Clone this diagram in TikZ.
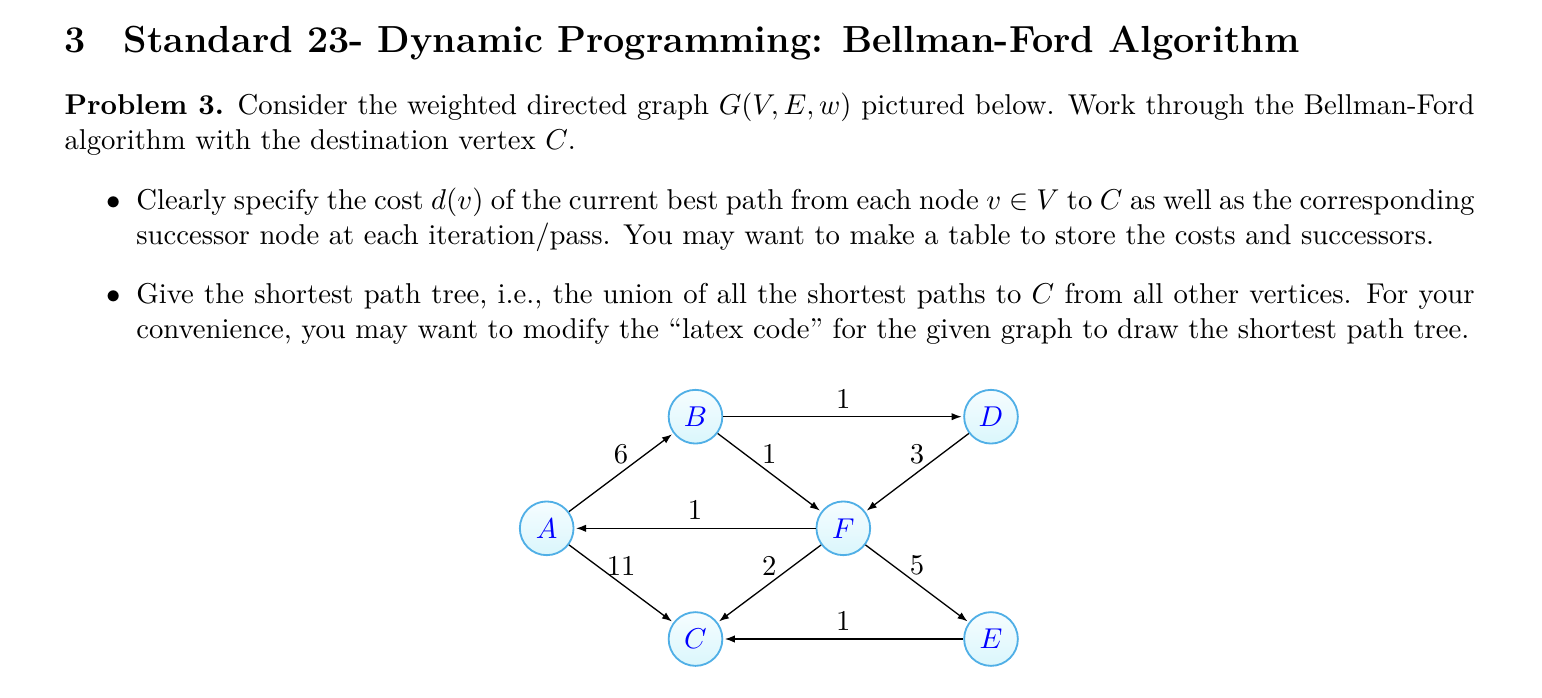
\documentclass[tikz,border=0pt]{standalone}
\usetikzlibrary{arrows.meta}
\definecolor{nodeborder}{RGB}{80,175,230}
\definecolor{nodetop}{RGB}{246,253,255}
\definecolor{nodebot}{RGB}{218,246,252}
\tikzset{
  vtx/.style={circle, draw=nodeborder, line width=0.7pt, top color=nodetop, bottom color=nodebot,
    minimum size=20.5pt, inner sep=0pt, text=blue},
  edg/.style={-{Latex[length=3.8pt,width=2.8pt]}, line width=0.5pt, shorten >=0.6pt},
  wt/.style={above, midway, inner sep=3pt},
  para/.style={anchor=base west, inner sep=0pt, align=justify},
  bul/.style={anchor=base east, inner sep=0pt}
}
\begin{document}
\fontsize{10.95}{13.6}\selectfont
\begin{tikzpicture}[x=0.381679pt, y=-0.381679pt]
\useasboundingbox (0,0) rectangle (1542,698);
% heading
\node[para] (head) at (64,52.3) {\fontsize{14.4}{18}\selectfont\bfseries 3\quad Standard 23- Dynamic Programming: Bellman-Ford Algorithm};
% problem statement
\node[para, text width=538.2pt] (prob) at (64,114.3) {\textbf{Problem 3.} Consider the weighted directed graph $G(V,E,w)$ pictured below. Work through the Bellman-Ford algorithm with the destination vertex $C$.};
% bullets
\node[bul] (b1) at (121.4,209.3) {$\bullet$};
\node[para, text width=510.8pt] (item1) at (135.8,209.3) {Clearly specify the cost $d(v)$ of the current best path from each node $v\in V$ to $C$ as well as the corresponding successor node at each iteration/pass. You may want to make a table to store the costs and successors.};
\node[bul] (b2) at (121.4,303.3) {$\bullet$};
\node[para, text width=510.8pt] (item2) at (135.8,303.3) {Give the shortest path tree, i.e., the union of all the shortest paths to $C$ from all other vertices. For your convenience, you may want to modify the ``latex code'' for the given graph to draw the shortest path tree.};
% graph
\node[vtx] (A) at (546.7,528.3) {$A$};
\node[vtx] (B) at (695.5,416.7) {$B$};
\node[vtx] (D) at (991,416.7) {$D$};
\node[vtx] (F) at (843.3,528.3) {$F$};
\node[vtx] (C) at (695.5,639) {$C$};
\node[vtx] (E) at (991,639) {$E$};
\draw[edg] (A) -- node[wt] {6} (B);
\draw[edg] (B) -- node[wt] {1} (D);
\draw[edg] (B) -- node[wt] {1} (F);
\draw[edg] (D) -- node[wt] {3} (F);
\draw[edg] (F) -- node[wt] {1} (A);
\draw[edg] (A) -- node[wt] {11} (C);
\draw[edg] (F) -- node[wt] {2} (C);
\draw[edg] (F) -- node[wt] {5} (E);
\draw[edg] (E) -- node[wt] {1} (C);
\end{tikzpicture}
\end{document}
